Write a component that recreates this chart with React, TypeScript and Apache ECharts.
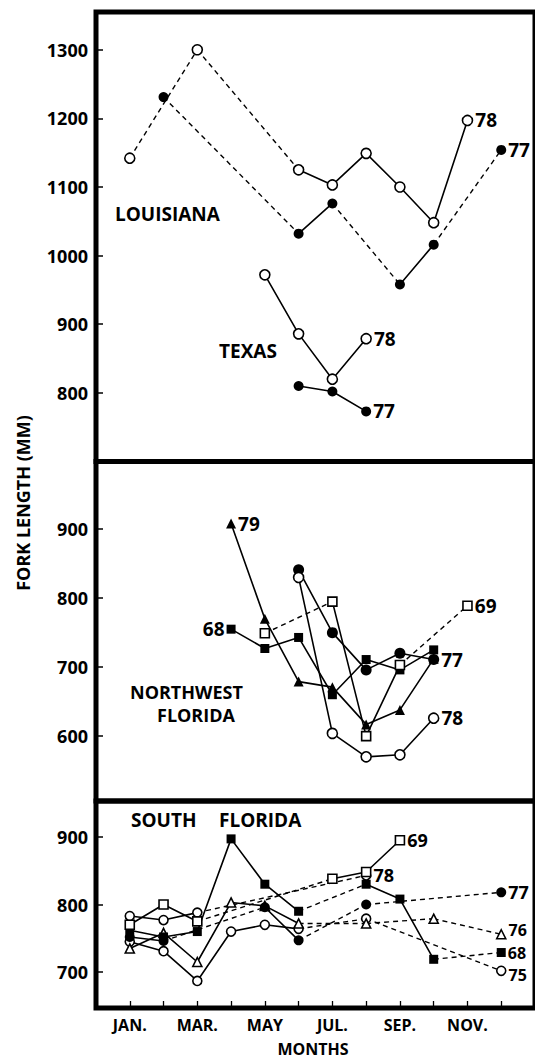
import React, { useEffect, useRef } from 'react';
import * as echarts from 'echarts';

// ---------- axis ticks / labels ----------
const monthTicks = [1, 2, 3, 4, 5, 6, 7, 8, 9, 10, 11, 12];
const monthLabels = ['JAN.', '', 'MAR.', '', 'MAY', '', 'JUL.', '', 'SEP.', '', 'NOV.', ''];
const labelledMonths = [1, 3, 5, 7, 9, 11];
const topTicks = [800, 900, 1000, 1100, 1200, 1300];
const midTicks = [600, 700, 800, 900];
const lowTicks = [700, 800, 900];

// ---------- Louisiana / Texas (top panel) ----------
const laMonths78 = [1, 3, 6, 7, 8, 9, 10, 11];
const la78 = [1142, 1300, 1125, 1103, 1149, 1100, 1048, 1197];
const laMonths77 = [2, 6, 7, 9, 10, 12];
const la77 = [1231, 1032, 1076, 958, 1016, 1154];
const txMonths78 = [5, 6, 7, 8];
const tx78 = [972, 886, 820, 879];
const txMonths77 = [6, 7, 8];
const tx77 = [810, 802, 773];

// ---------- Northwest Florida (middle panel) ----------
const nwMonths79 = [4, 5, 6, 7, 8, 9, 10];
const nw79 = [908, 770, 679, 671, 617, 638, 712];
const nwMonths68 = [4, 5, 6, 7, 8, 9, 10];
const nw68 = [755, 727, 743, 660, 711, 696, 725];
const nwMonths77 = [6, 7, 8, 9, 10];
const nw77 = [841, 750, 696, 720, 711];
const nwMonths78 = [6, 7, 8, 9, 10];
const nw78 = [830, 604, 570, 573, 626];
const nwMonths69 = [5, 7, 8, 9, 11];
const nw69 = [749, 795, 600, 703, 789];

// ---------- South Florida (bottom panel) ----------
const sfMonths69 = [1, 2, 3, 7, 8, 9];
const sf69 = [770, 800, 775, 838, 848, 895];
const sfMonths78 = [1, 2, 3, 8];
const sf78 = [783, 777, 788, 843];
const sfMonths77 = [1, 2, 5, 6, 8, 12];
const sf77 = [752, 746, 796, 747, 800, 818];
const sfMonths76 = [1, 2, 3, 4, 5, 6, 8, 10, 12];
const sf76 = [735, 758, 715, 803, 798, 772, 772, 779, 756];
const sfMonths75 = [1, 2, 3, 4, 5, 6, 8, 12];
const sf75 = [745, 731, 687, 760, 770, 764, 779, 702];
const sfMonths68 = [1, 2, 3, 4, 5, 6, 8, 9, 10, 12];
const sf68 = [762, 752, 760, 897, 830, 790, 830, 808, 719, 729];

const FONT = 'Open Sans';

type Def = {
  grid: number;
  months: number[];
  values: number[];
  symbol: string;
  filled: boolean;
  size: number;
  name: string;
  labelAt: 'start' | 'end';
  labelPos: 'left' | 'right';
  labelSize: number;
  labelShift: number;
};

const defs: Def[] = [
  { grid: 0, months: laMonths78, values: la78, symbol: 'circle', filled: false, size: 10, name: '78', labelAt: 'end', labelPos: 'right', labelSize: 19, labelShift: 0 },
  { grid: 0, months: laMonths77, values: la77, symbol: 'circle', filled: true, size: 10, name: '77', labelAt: 'end', labelPos: 'right', labelSize: 19, labelShift: 0 },
  { grid: 0, months: txMonths78, values: tx78, symbol: 'circle', filled: false, size: 10, name: '78', labelAt: 'end', labelPos: 'right', labelSize: 19, labelShift: 0 },
  { grid: 0, months: txMonths77, values: tx77, symbol: 'circle', filled: true, size: 10, name: '77', labelAt: 'end', labelPos: 'right', labelSize: 19, labelShift: 0 },
  { grid: 1, months: nwMonths79, values: nw79, symbol: 'triangle', filled: true, size: 10, name: '79', labelAt: 'start', labelPos: 'right', labelSize: 19, labelShift: 0 },
  { grid: 1, months: nwMonths68, values: nw68, symbol: 'rect', filled: true, size: 9, name: '68', labelAt: 'start', labelPos: 'left', labelSize: 19, labelShift: 0 },
  { grid: 1, months: nwMonths77, values: nw77, symbol: 'circle', filled: true, size: 11, name: '77', labelAt: 'end', labelPos: 'right', labelSize: 19, labelShift: 0 },
  { grid: 1, months: nwMonths78, values: nw78, symbol: 'circle', filled: false, size: 10, name: '78', labelAt: 'end', labelPos: 'right', labelSize: 19, labelShift: 0 },
  { grid: 1, months: nwMonths69, values: nw69, symbol: 'rect', filled: false, size: 9, name: '69', labelAt: 'end', labelPos: 'right', labelSize: 19, labelShift: 0 },
  { grid: 2, months: sfMonths75, values: sf75, symbol: 'circle', filled: false, size: 9, name: '75', labelAt: 'end', labelPos: 'right', labelSize: 16, labelShift: 4 },
  { grid: 2, months: sfMonths76, values: sf76, symbol: 'triangle', filled: false, size: 9, name: '76', labelAt: 'end', labelPos: 'right', labelSize: 16, labelShift: -4 },
  { grid: 2, months: sfMonths68, values: sf68, symbol: 'rect', filled: true, size: 9, name: '68', labelAt: 'end', labelPos: 'right', labelSize: 16, labelShift: 0 },
  { grid: 2, months: sfMonths77, values: sf77, symbol: 'circle', filled: true, size: 10, name: '77', labelAt: 'end', labelPos: 'right', labelSize: 18, labelShift: 0 },
  { grid: 2, months: sfMonths78, values: sf78, symbol: 'circle', filled: false, size: 9, name: '78', labelAt: 'end', labelPos: 'right', labelSize: 18, labelShift: 0 },
  { grid: 2, months: sfMonths69, values: sf69, symbol: 'rect', filled: false, size: 9, name: '69', labelAt: 'end', labelPos: 'right', labelSize: 18, labelShift: 0 },
];

function buildSeries(def: Def) {
  const pts = def.months.map((m, i) => [m, def.values[i]]);
  const solid: any[] = [];
  const dashed: any[] = [];
  pts.forEach((p, i) => {
    if (i > 0) {
      const gap = def.months[i] - def.months[i - 1] > 1;
      if (gap) {
        solid.push(['-', '-']);
        dashed.push(pts[i - 1], p, ['-', '-']);
      }
    }
    solid.push(p);
  });
  const labelIdx = def.labelAt === 'end' ? pts.length - 1 : 0;
  const scatterData = pts.map((p, i) =>
    i === labelIdx
      ? {
          value: p,
          label: {
            show: true,
            formatter: def.name,
            position: def.labelPos,
            distance: 2,
            offset: [0, def.labelShift],
            color: '#000',
            fontFamily: FONT,
            fontWeight: 'bold',
            fontSize: def.labelSize,
            lineHeight: def.labelSize - 3,
          },
        }
      : { value: p }
  );
  const common = { xAxisIndex: def.grid, yAxisIndex: def.grid, silent: true };
  return [
    {
      ...common,
      type: 'line',
      data: solid,
      symbol: 'none',
      connectNulls: false,
      lineStyle: { color: '#000', width: 1.6, type: 'solid' },
      z: 2,
    },
    {
      ...common,
      type: 'line',
      data: dashed,
      symbol: 'none',
      connectNulls: false,
      lineStyle: { color: '#000', width: 1.4, type: [5, 4] },
      z: 2,
    },
    {
      ...common,
      type: 'scatter',
      data: scatterData,
      symbol: def.symbol,
      symbolSize: def.size,
      itemStyle: {
        color: def.filled ? '#000' : '#fff',
        borderColor: '#000',
        borderWidth: def.filled ? 0 : 1.6,
        opacity: 1,
      },
      z: 3,
    },
  ];
}

const gridBase = {
  left: 96,
  width: 442,
  show: true,
  borderColor: '#000',
  borderWidth: 5,
  backgroundColor: 'transparent',
  containLabel: false,
};

function yAxis(gridIndex: number, min: number, max: number, ticks: number[]) {
  return {
    type: 'value',
    gridIndex,
    min,
    max,
    axisLine: { show: false },
    splitLine: { show: false },
    axisTick: {
      show: true,
      inside: true,
      length: 7,
      customValues: ticks,
      lineStyle: { color: '#000', width: 1.5 },
    },
    axisLabel: {
      show: true,
      customValues: ticks,
      margin: 8,
      color: '#000',
      fontFamily: FONT,
      fontWeight: 'bold',
      fontSize: 18,
      formatter: (v: number) => (ticks.indexOf(v) >= 0 ? String(v) : ''),
    },
  };
}

function xAxis(gridIndex: number, visible: boolean) {
  return {
    type: 'value',
    gridIndex,
    min: 0,
    max: 13,
    interval: 1,
    show: visible,
    axisLine: { show: false },
    splitLine: { show: false },
    axisTick: {
      show: visible,
      inside: true,
      length: 7,
      customValues: monthTicks,
      lineStyle: { color: '#000', width: 1.3 },
    },
    axisLabel: {
      show: visible,
      customValues: labelledMonths,
      margin: 9,
      lineHeight: 15,
      color: '#000',
      fontFamily: FONT,
      fontWeight: 'bold',
      fontSize: 16,
      formatter: (v: number) => monthLabels[v - 1] || '',
    },
  };
}

const textStyle = (text: string, size = 19) => ({
  text,
  fill: '#000',
  font: `bold ${size}px "${FONT}"`,
  lineHeight: size - 3,
});

export default function App() {
  const ref = useRef<HTMLDivElement>(null);
  useEffect(() => {
    if (!ref.current) return;
    const chart = echarts.init(ref.current, undefined, { renderer: 'svg' });
    const series: any[] = [];
    defs.forEach((d) => series.push(...buildSeries(d)));
    chart.setOption({
      animation: false,
      backgroundColor: '#fff',
      textStyle: { fontFamily: FONT },
      grid: [
        { ...gridBase, top: 12, height: 449.5 },
        { ...gridBase, top: 461.5, height: 339.5 },
        { ...gridBase, top: 801, height: 207 },
      ],
      xAxis: [xAxis(0, false), xAxis(1, false), xAxis(2, true)],
      yAxis: [
        yAxis(0, 700, 1355, topTicks),
        yAxis(1, 506, 998, midTicks),
        yAxis(2, 647, 953, lowTicks),
      ],
      series,
      graphic: [
        { type: 'text', x: 115, y: 214, style: { ...textStyle('LOUISIANA'), align: 'left', verticalAlign: 'middle' } },
        { type: 'text', x: 219, y: 351, style: { ...textStyle('TEXAS'), align: 'left', verticalAlign: 'middle' } },
        { type: 'text', x: 130, y: 692, style: { ...textStyle('NORTHWEST', 18), align: 'left', verticalAlign: 'middle' } },
        { type: 'text', x: 157, y: 715, style: { ...textStyle('FLORIDA', 18), align: 'left', verticalAlign: 'middle' } },
        { type: 'text', x: 131, y: 820, style: { ...textStyle('SOUTH'), align: 'left', verticalAlign: 'middle' } },
        { type: 'text', x: 219, y: 820, style: { ...textStyle('FLORIDA'), align: 'left', verticalAlign: 'middle' } },
        { type: 'text', x: 313, y: 1049, style: { ...textStyle('MONTHS', 16), align: 'center', verticalAlign: 'middle' } },
        {
          type: 'text',
          x: 23,
          y: 503,
          rotation: Math.PI / 2,
          style: { ...textStyle('FORK LENGTH (MM)', 18), align: 'center', verticalAlign: 'middle' },
        },
      ],
    });
    return () => chart.dispose();
  }, []);
  return (
    <div
      ref={ref}
      style={{ position: 'fixed', left: 0, top: 0, width: 535, height: 1060, background: '#fff' }}
    />
  );
}
